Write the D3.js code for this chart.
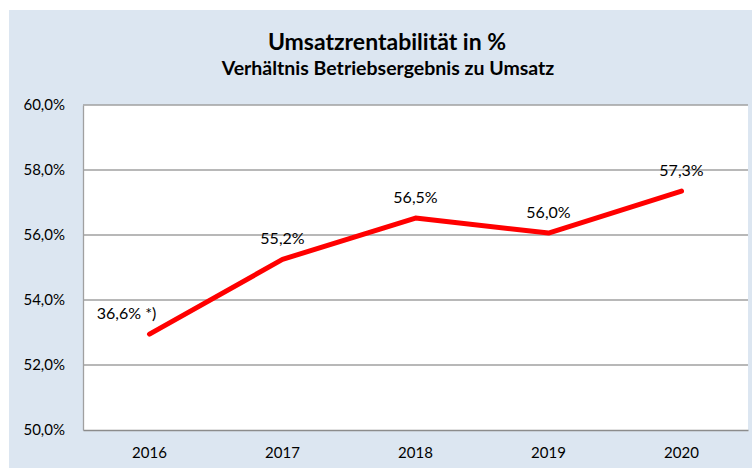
<!DOCTYPE html>
<html>
<head>
<meta charset="utf-8">
<script src="https://cdn.jsdelivr.net/npm/d3@7"></script>
<style>
  html, body { margin: 0; padding: 0; background: #fff; }
  svg { display: block; font-family: Lato, "Open Sans", sans-serif; }
</style>
</head>
<body>
<svg id="chart"></svg>
<script>
const years = ['2016', '2017', '2018', '2019', '2020'];
const values = [52.95, 55.25, 56.52, 56.06, 57.35];
const labels = ['36,6% *)', '55,2%', '56,5%', '56,0%', '57,3%'];
const yTicks = [50, 52, 54, 56, 58, 60];

const width = 753;
const height = 468;
const plot = {left: 83, right: 748, top: 105, bottom: 430};

const svg = d3.select('#chart')
  .attr('width', width)
  .attr('height', height);

// outer chart area
svg.append('rect')
  .attr('x', 9)
  .attr('y', 10)
  .attr('width', 743)
  .attr('height', height - 10)
  .attr('fill', '#dce6f1');

svg.append('rect')
  .attr('x', plot.left)
  .attr('y', plot.top)
  .attr('width', plot.right - plot.left)
  .attr('height', plot.bottom - plot.top)
  .attr('fill', '#fff');

svg.append('text')
  .attr('x', 387)
  .attr('y', 50)
  .attr('text-anchor', 'middle')
  .attr('font-size', 23)
  .attr('font-weight', 'bold')
  .attr('fill', '#000')
  .text('Umsatzrentabilität in %');

svg.append('text')
  .attr('x', 388)
  .attr('y', 75)
  .attr('text-anchor', 'middle')
  .attr('font-size', 19.5)
  .attr('font-weight', 'bold')
  .attr('fill', '#000')
  .text('Verhältnis Betriebsergebnis zu Umsatz');

const xScale = d3.scaleBand()
  .domain(years)
  .range([plot.left, plot.right]);

const yScale = d3.scaleLinear()
  .domain([50, 60])
  .range([plot.bottom, plot.top]);

const fmt = d => d.toFixed(1).replace('.', ',') + '%';

// gridlines
svg.append('g')
  .selectAll('line')
  .data(yTicks.filter(t => t > 50))
  .enter()
  .append('line')
  .attr('x1', plot.left)
  .attr('x2', plot.right)
  .attr('y1', d => yScale(d))
  .attr('y2', d => yScale(d))
  .attr('stroke', '#a0a0a0')
  .attr('stroke-width', 1.3);

const yAxis = svg.append('g')
  .attr('transform', `translate(${plot.left}, 0)`)
  .call(d3.axisLeft(yScale).tickValues(yTicks).tickSize(0).tickPadding(18).tickFormat(fmt));
yAxis.select('.domain').attr('stroke', '#a0a0a0').attr('stroke-width', 1.3);
yAxis.selectAll('text')
  .attr('font-size', 15)
  .attr('font-family', 'Lato, sans-serif')
  .attr('fill', '#000');

const xAxis = svg.append('g')
  .attr('transform', `translate(0, ${plot.bottom})`)
  .call(d3.axisBottom(xScale).tickSize(0).tickPadding(17));
xAxis.select('.domain').attr('stroke', '#8c8c8c').attr('stroke-width', 1.6);
xAxis.selectAll('text')
  .attr('font-size', 15)
  .attr('font-family', 'Lato, sans-serif')
  .attr('fill', '#000');

const points = years.map((y, i) => ({year: y, value: values[i], label: labels[i]}));
const cx = d => xScale(d.year) + xScale.bandwidth() / 2;

const line = d3.line()
  .x(cx)
  .y(d => yScale(d.value));

svg.append('path')
  .datum(points)
  .attr('d', line)
  .attr('fill', 'none')
  .attr('stroke', '#ff0000')
  .attr('stroke-width', 5)
  .attr('stroke-linecap', 'round')
  .attr('stroke-linejoin', 'round');

svg.append('g')
  .selectAll('text')
  .data(points)
  .enter()
  .append('text')
  .attr('x', (d, i) => cx(d) + (i === 0 ? -23 : 0))
  .attr('y', d => yScale(d.value) - 15.5)
  .attr('text-anchor', 'middle')
  .attr('font-size', 16)
  .attr('fill', '#000')
  .text(d => d.label);
</script>
</body>
</html>
